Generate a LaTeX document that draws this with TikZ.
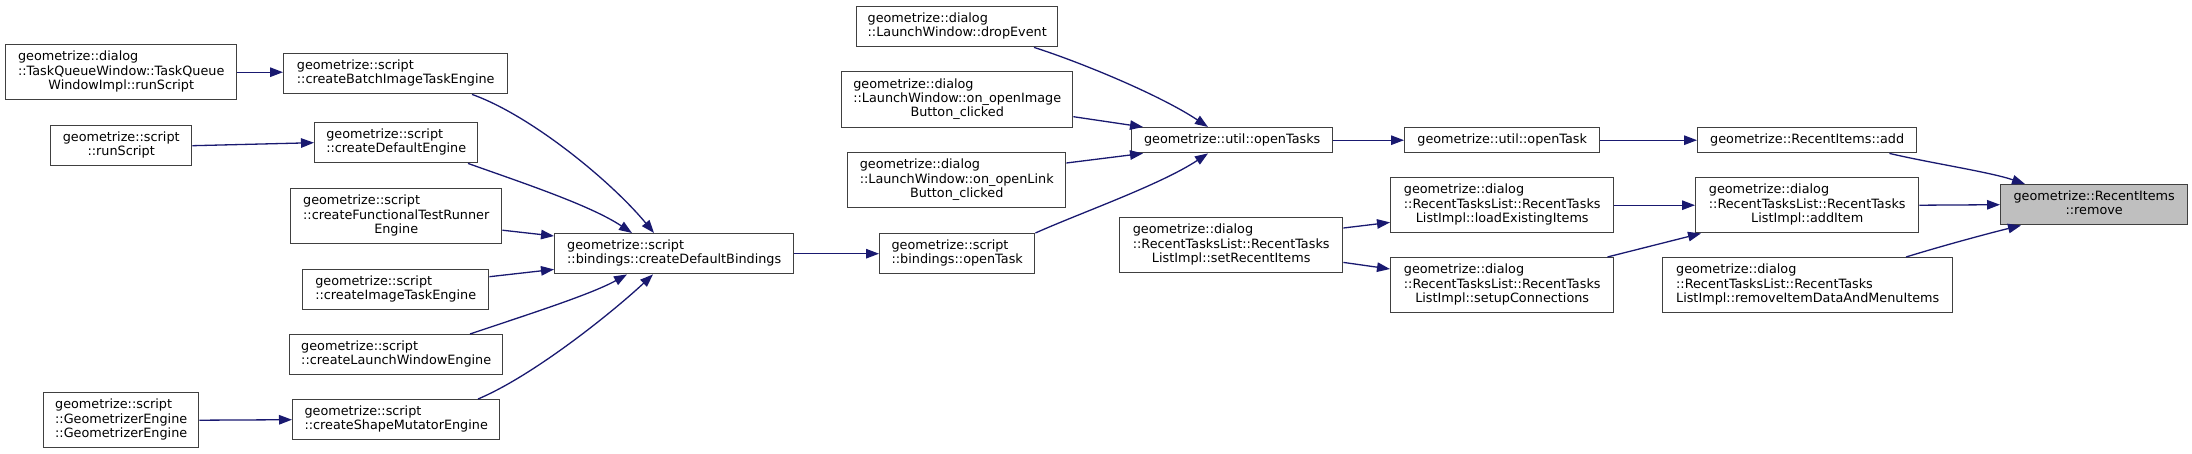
\documentclass[tikz,border=0pt]{standalone}
\usepackage{fontspec}
\setmainfont{DejaVu Sans}
\usetikzlibrary{arrows.meta}
\definecolor{edgeblue}{HTML}{191970}
\definecolor{boxline}{HTML}{404040}
\definecolor{rootfill}{HTML}{BFBFBF}
\newcommand{\LTwo}[2]{\begin{tabular}{@{}l@{}}#1\\\multicolumn{1}{@{}c@{}}{#2}\end{tabular}}
\newcommand{\LThree}[3]{\begin{tabular}{@{}l@{}}#1\\#2\\\multicolumn{1}{@{}c@{}}{#3}\end{tabular}}
\tikzset{
  fnbox/.style={draw=boxline, line width=1.4pt, fill=white, inner sep=0pt, anchor=north west,
    font=\fontsize{12.8pt}{14.3pt}\selectfont},
  rootbox/.style={fnbox, fill=rootfill},
  calls/.style={draw=edgeblue, line width=1.3pt, -{Triangle[length=13pt,width=9.5pt]}}
}
\newcommand{\fbx}[7][fnbox]{% style, name, x0, y0, x1, y1, text
  \node[#1, minimum width={#5-#3}, minimum height={#6-#4}] (#2) at (#3,#4) {#7};}
\begin{document}
\begin{tikzpicture}[x=1pt,y=-1pt]
\useasboundingbox (0,0) rectangle (2192,453);
\renewcommand{\arraystretch}{1}
% column 1
\fbx{tq}{5}{44}{236}{99}{\LThree{geometrize::dialog}{::TaskQueueWindow::TaskQueue}{WindowImpl::runScript}}
\fbx{rs}{50}{125}{191}{165}{\LTwo{geometrize::script}{::runScript}}
\fbx{ge}{43}{392}{198}{447}{\LThree{geometrize::script}{::GeometrizerEngine}{::GeometrizerEngine}}
% column 2
\fbx{cbite}{283}{53}{507}{93}{\LTwo{geometrize::script}{::createBatchImageTaskEngine}}
\fbx{cde}{314}{122}{477}{162}{\LTwo{geometrize::script}{::createDefaultEngine}}
\fbx{cftre}{290}{188}{501}{243}{\LThree{geometrize::script}{::createFunctionalTestRunner}{Engine}}
\fbx{cite}{302}{269}{488}{309}{\LTwo{geometrize::script}{::createImageTaskEngine}}
\fbx{clwe}{289}{334}{502}{374}{\LTwo{geometrize::script}{::createLaunchWindowEngine}}
\fbx{csme}{292}{399}{499}{439}{\LTwo{geometrize::script}{::createShapeMutatorEngine}}
% column 3
\fbx{cdb}{554}{233}{793}{273}{\LTwo{geometrize::script}{::bindings::createDefaultBindings}}
% column 4
\fbx{de}{856}{6}{1057}{46}{\LTwo{geometrize::dialog}{::LaunchWindow::dropEvent}}
\fbx{oib}{841}{71}{1072}{127}{\LThree{geometrize::dialog}{::LaunchWindow::on\_openImage}{Button\_clicked}}
\fbx{olb}{847}{152}{1065}{207}{\LThree{geometrize::dialog}{::LaunchWindow::on\_openLink}{Button\_clicked}}
\fbx{bot}{879}{233}{1034}{273}{\LTwo{geometrize::script}{::bindings::openTask}}
% column 5
\fbx{uots}{1131}{127}{1332}{152}{geometrize::util::openTasks}
\fbx{srI}{1119}{217}{1342}{272}{\LThree{geometrize::dialog}{::RecentTasksList::RecentTasks}{ListImpl::setRecentItems}}
% column 6
\fbx{uot}{1404}{127}{1599}{152}{geometrize::util::openTask}
\fbx{lei}{1390}{177}{1613}{232}{\LThree{geometrize::dialog}{::RecentTasksList::RecentTasks}{ListImpl::loadExistingItems}}
\fbx{sc}{1390}{257}{1613}{312}{\LThree{geometrize::dialog}{::RecentTasksList::RecentTasks}{ListImpl::setupConnections}}
% column 7
\fbx{add}{1697}{127}{1916}{152}{geometrize::RecentItems::add}
\fbx{addItem}{1695}{177}{1918}{232}{\LThree{geometrize::dialog}{::RecentTasksList::RecentTasks}{ListImpl::addItem}}
\fbx{rid}{1662}{257}{1952}{312}{\LThree{geometrize::dialog}{::RecentTasksList::RecentTasks}{ListImpl::removeItemDataAndMenuItems}}
% root
\fbx[rootbox]{rm}{2000}{184}{2187}{224}{\LTwo{geometrize::RecentItems}{::remove}}

% edges
\draw[calls] (tq.east) -- (tq.east -| cbite.west);
\draw[calls] (rs.east) -- (cde.west);
\draw[calls] (ge.east) -- (csme.west);
\draw[calls] ([xshift=189pt]cbite.south west) .. controls (530,115) and (610,180) .. ([xshift=100pt]cdb.north west);
\draw[calls] ([xshift=154pt]cde.south west) .. controls (520,182) and (590,205) .. ([xshift=78pt]cdb.north west);
\draw[calls] ([yshift=-14pt]cftre.east) -- ([yshift=-3pt]cdb.north west);
\draw[calls] ([yshift=13pt]cite.east) -- ([yshift=5pt]cdb.south west);
\draw[calls] ([xshift=181pt]clwe.north west) .. controls (520,317) and (590,295) .. ([xshift=73pt]cdb.south west);
\draw[calls] ([xshift=186pt]csme.north west) .. controls (535,375) and (615,310) .. ([xshift=99pt]cdb.south west);
\draw[calls] (cdb.east) -- (bot.west);
\draw[calls] ([xshift=178pt]de.south west) .. controls (1080,62) and (1160,95) .. ([xshift=77pt]uots.north west);
\draw[calls] ([yshift=-17pt]oib.east) -- ([xshift=12pt]uots.north west);
\draw[calls] ([yshift=-11pt]olb.north east) -- ([xshift=12pt]uots.south west);
\draw[calls] (bot.north east) .. controls (1080,213) and (1160,185) .. ([xshift=77pt]uots.south west);
\draw[calls] (uots.east) -- (uot.west);
\draw[calls] (uot.east) -- (add.west);
\draw[calls] ([yshift=-11pt]srI.north east) -- ([yshift=11pt]lei.south west);
\draw[calls] ([yshift=11pt]srI.south east) -- ([yshift=-12pt]sc.north west);
\draw[calls] (lei.east) -- (addItem.west);
\draw[calls] ([xshift=-7pt]sc.north east) -- ([xshift=6pt]addItem.south west);
\draw[calls] ([xshift=-28pt]add.south east) .. controls (1930,163) and (1990,172) .. ([xshift=25pt]rm.north west);
\draw[calls] (addItem.east) -- (rm.west);
\draw[calls] ([xshift=244pt]rid.north west) .. controls (1945,245) and (1990,233) .. ([xshift=21pt]rm.south west);
\end{tikzpicture}
\end{document}
